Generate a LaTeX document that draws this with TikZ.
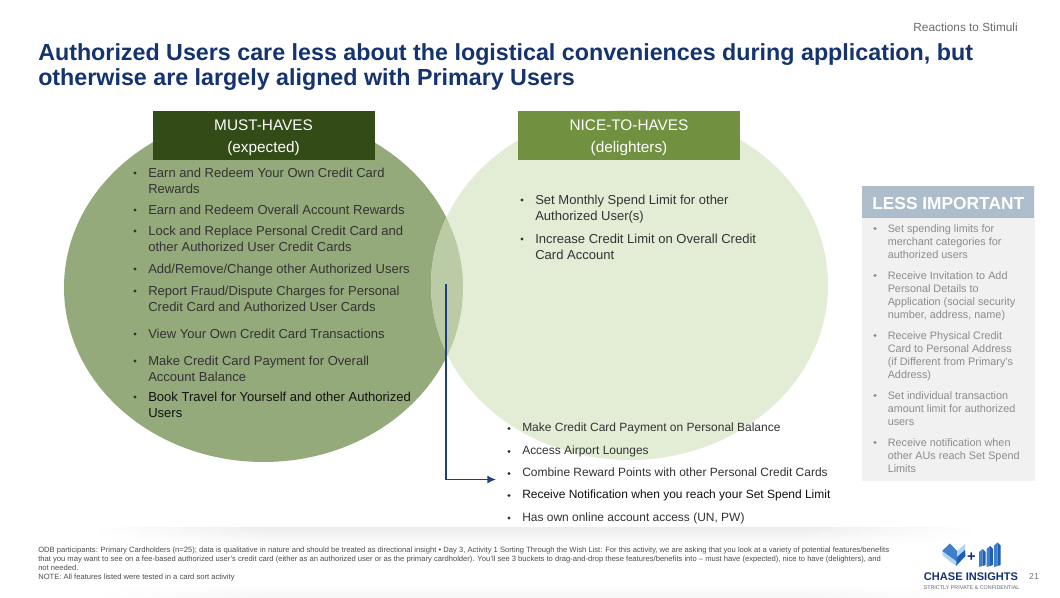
\documentclass[tikz,border=0pt]{standalone}
\usepackage{fontspec}
\setmainfont{Liberation Sans}
\usetikzlibrary{arrows.meta}
\definecolor{navy}{HTML}{14336F}
\definecolor{arrowblue}{HTML}{1F3F7F}
\definecolor{leftc}{HTML}{95AA7B}
\definecolor{rightc}{HTML}{E3EDD6}
\definecolor{lensc}{HTML}{BACBA5}
\definecolor{darkg}{HTML}{324B17}
\definecolor{midg}{HTML}{719141}
\definecolor{bodyt}{HTML}{333333}
\definecolor{bodyk}{HTML}{111111}
\definecolor{lessh}{HTML}{ADBDCC}
\definecolor{lessb}{HTML}{F1F1F1}
\definecolor{lesst}{HTML}{8C8C8C}
\definecolor{logob}{HTML}{3F7FCB}
\definecolor{logol}{HTML}{B5D3F2}
\definecolor{logod}{HTML}{1F5FB0}
\tikzset{
 x=0.75pt,y=-0.75pt,
 bodyl/.style={font=\fontsize{9.77}{12}\selectfont,text=bodyt,anchor=north west,inner sep=0pt,align=left},
 bodys/.style={font=\fontsize{8.98}{12}\selectfont,text=bodyt,anchor=north west,inner sep=0pt,align=left},
 less/.style={font=\fontsize{8.12}{9.95}\selectfont,text=lesst,anchor=north west,inner sep=0pt,align=left},
 dot/.style={circle,fill=#1,inner sep=0pt,minimum size=2.6pt},
 head/.style={fill=#1,minimum width=166.5pt,minimum height=36.6pt,inner sep=0pt,text=white,align=center,font=\fontsize{11.5}{16.5}\selectfont},
 foot/.style={font=\fontsize{5.71}{6.75}\selectfont,text=black!70,anchor=north west,inner sep=0pt,align=left},
}
\newcommand{\bul}[5][bodyl]{\node[dot=bodyt] (d#2) at (#3-13,#4+7) {};\node[#1] (t#2) at (#3,#4+1.5) {#5};}
\newcommand{\lbl}[4]{\node[dot=lesst] (d#1) at (#2-12.5,#3+6.5) {};\node[less] (t#1) at (#2,#3+2) {#4};}
\begin{document}
\begin{tikzpicture}
\useasboundingbox (0,0) rectangle (1060,598);
\fill[white] (0,0) rectangle (1060,598);
% soft shadow bands
\foreach \sx in {90,100,...,960}{
  \pgfmathsetmacro{\env}{min(1,min((\sx-90)/170,(970-\sx)/170))}
  \pgfmathsetmacro{\ca}{7*\env}
  \pgfmathsetmacro{\cb}{4*\env}
  \shade[top color=black!\ca,bottom color=white] (\sx,527.5) rectangle (\sx+10.4,546);
  \shade[top color=white,bottom color=black!\cb] (\sx,584) rectangle (\sx+10.4,598);
}
\node[anchor=north east,inner sep=0pt,font=\fontsize{8.85}{10}\selectfont,text=black!58] (tag) at (1018,22.5) {Reactions to Stimuli};
\node[anchor=north west,inner sep=0pt,align=left,font=\bfseries\fontsize{17.45}{19}\selectfont,text=navy] (title) at (38,43) {Authorized Users care less about the logistical conveniences during application, but\\otherwise are largely aligned with Primary Users};
% venn
\fill[leftc] (263.5,287.5) ellipse [x radius=199.5,y radius=174.5];
\fill[rightc] (629.5,285) ellipse [x radius=198.5,y radius=175];
\begin{scope}
\clip (263.5,287.5) ellipse [x radius=199.5,y radius=174.5];
\fill[lensc] (629.5,285) ellipse [x radius=198.5,y radius=175];
\end{scope}
\node[head=darkg] (must) at (263.5,135.5) {\rule{0pt}{11.5pt}MUST-HAVES\\(expected)};
\node[head=midg] (nice) at (629,135.5) {\rule{0pt}{11.5pt}NICE-TO-HAVES\\(delighters)};
% left list
\bul{a}{148}{166}{Earn and Redeem Your Own Credit Card\\Rewards}
\bul{b}{148}{203}{Earn and Redeem Overall Account Rewards}
\bul{c}{148}{224}{Lock and Replace Personal Credit Card and\\other Authorized User Credit Cards}
\bul{d}{148}{262}{Add/Remove/Change other Authorized Users}
\bul{e}{148}{284}{Report Fraud/Dispute Charges for Personal\\Credit Card and Authorized User Cards}
\bul{f}{148}{327}{View Your Own Credit Card Transactions}
\bul{g}{148}{354}{Make Credit Card Payment for Overall\\Account Balance}
\bul[bodyl,text=bodyk]{h}{148}{390}{Book Travel for Yourself and other Authorized\\Users}
% right list
\bul{i}{535}{193}{Set Monthly Spend Limit for other\\Authorized User(s)}
\bul{j}{535}{232}{Increase Credit Limit on Overall Credit\\Card Account}
% bottom list
\bul[bodys]{k}{522}{421.5}{Make Credit Card Payment on Personal Balance}
\bul[bodys]{l}{522}{444.5}{Access Airport Lounges}
\bul[bodys]{m}{522}{466.5}{Combine Reward Points with other Personal Credit Cards}
\bul[bodys,text=bodyk]{n}{522}{488.5}{Receive Notification when you reach your Set Spend Limit}
\bul[bodys]{o}{522}{511}{Has own online account access (UN, PW)}
% arrow
\coordinate (as) at (446,284);
\coordinate (ac) at (446,479.5);
\coordinate (ae) at (496,479.5);
\draw[arrowblue,line width=1.1pt,-{Latex[length=6.5pt,width=6pt]}] (as) -- (ac) -- (ae);
% less important
\fill[lessb] (862,186) rectangle (1034.5,481);
\node[fill=lessh,minimum width=129.4pt,minimum height=24pt,inner sep=0pt,text=white,font=\bfseries\fontsize{13}{15}\selectfont] (lesshead) at (948.2,202) {\rule{0pt}{11.5pt}LESS IMPORTANT};
\lbl{p}{887.5}{222}{Set spending limits for\\merchant categories for\\authorized users}
\lbl{q}{887.5}{269}{Receive Invitation to Add\\Personal Details to\\Application (social security\\number, address, name)}
\lbl{r}{887.5}{329}{Receive Physical Credit\\Card to Personal Address\\(if Different from Primary’s\\Address)}
\lbl{s}{887.5}{389}{Set individual transaction\\amount limit for authorized\\users}
\lbl{u}{887.5}{436}{Receive notification when\\other AUs reach Set Spend\\Limits}
% footnote
\node[foot] (fn) at (38,547) {ODB participants: Primary Cardholders (n=25); data is qualitative in nature and should be treated as directional insight • Day 3, Activity 1 Sorting Through the Wish List: For this activity, we are asking that you look at a variety of potential features/benefits\\that you may want to see on a fee-based authorized user’s credit card (either as an authorized user or as the primary cardholder). You’ll see 3 buckets to drag-and-drop these features/benefits into – must have (expected), nice to have (delighters), and\\not needed.\\NOTE: All features listed were tested in a card sort activity};
% logo
\fill[logob] (942,551) -- (950,543.5) -- (957,551) -- (957,562) -- cycle;
\fill[logol] (942,551) -- (957,562) -- (956,566) -- (943,556) -- cycle;
\fill[logol] (957,551) -- (965,544) -- (965,550) -- (957,557) -- cycle;
\fill[logod] (957,557) -- (965,550) -- (965.5,556) -- (956,566) -- cycle;
\node[inner sep=0pt,text=navy,font=\bfseries\fontsize{11}{11}\selectfont] (plus) at (971.5,557) {+};
\foreach \xx/\yt in {979/549,986.5/546,994/542.5}{
  \fill[logob] (\xx,\yt+3) -- (\xx+3.5,\yt) -- (\xx+3.5,566) -- (\xx,567) -- cycle;
  \fill[logod] (\xx+3.5,\yt) -- (\xx+6.5,\yt+3) -- (\xx+6.5,565) -- (\xx+3.5,566) -- cycle;
}
\node[inner sep=0pt,text=navy,font=\bfseries\fontsize{8.3}{9}\selectfont] (brand) at (971,577) {CHASE INSIGHTS};
\node[inner sep=0pt,text=black!60,font=\fontsize{4.05}{5}\selectfont] (conf) at (971.5,587.5) {STRICTLY PRIVATE \& CONFIDENTIAL};
\node[inner sep=0pt,text=black!55,font=\fontsize{6.5}{8}\selectfont] (pg) at (1034,576.5) {21};
\end{tikzpicture}
\end{document}
